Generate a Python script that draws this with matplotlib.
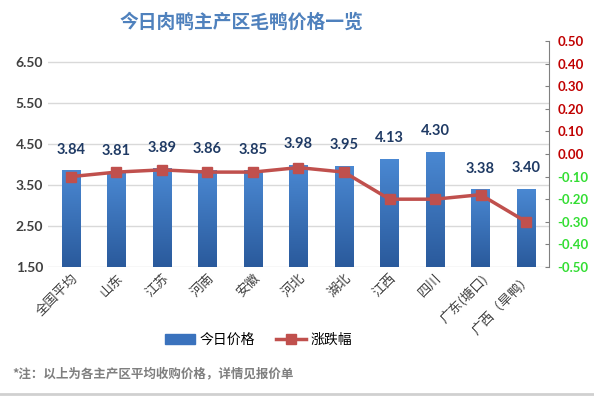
import matplotlib.pyplot as plt
import numpy as np
from matplotlib.colors import LinearSegmentedColormap

plt.rcParams['font.family'] = ['Noto Sans CJK SC', 'DejaVu Sans']

regions = ['全国平均', '山东', '江苏', '河南', '安徽', '河北', '湖北', '江西', '四川', '广东(塘口)', '广西（旱鸭）']
price = [3.84, 3.81, 3.89, 3.86, 3.85, 3.98, 3.95, 4.13, 4.30, 3.38, 3.40]
change = [-0.10, -0.08, -0.07, -0.08, -0.08, -0.06, -0.08, -0.20, -0.20, -0.18, -0.30]
left_ticks = [1.5, 2.5, 3.5, 4.5, 5.5, 6.5]
right_ticks = [-0.5, -0.4, -0.3, -0.2, -0.1, 0.0, 0.1, 0.2, 0.3, 0.4, 0.5]

fig = plt.figure(figsize=(5.94, 3.96), dpi=100)
ax = fig.add_axes([0.081, 0.326, 0.843, 0.570])
x = np.arange(len(regions))

bars = ax.bar(x, [p - 1.5 for p in price], bottom=1.5, width=0.4, color='#3a72bd', zorder=2)
cmap = LinearSegmentedColormap.from_list('b', ['#2a5a9c', '#4a88d2'])
grad = np.linspace(0, 1, 100).reshape(-1, 1)
for b in bars:
    x0, y0 = b.get_xy()
    ax.imshow(grad, extent=[x0, x0 + b.get_width(), y0, y0 + b.get_height()],
              origin='lower', aspect='auto', cmap=cmap, zorder=2.5)

ax.set_xlim(-0.5, len(regions) - 0.5)
ax.set_ylim(1.5, 7.0)
ax.set_yticks(left_ticks)
ax.set_yticklabels([f'{t:.2f}' for t in left_ticks], fontsize=10, color='#404040',
                   fontweight='bold', family='Lato')
ax.yaxis.grid(True, color='#d9d9d9', linewidth=1, zorder=0)
ax.set_axisbelow(True)
for s in ['left', 'top', 'right', 'bottom']:
    ax.spines[s].set_visible(False)
ax.tick_params(axis='both', length=0)
ax.set_xticks(x)
ax.set_xticklabels(regions, rotation=45, ha='right', rotation_mode='anchor',
                   fontsize=9.5, color='#404040')

for xi, p in zip(x, price):
    ax.annotate(f'{p:.2f}', (xi, p), xytext=(0, 10), textcoords='offset points',
                ha='center', va='bottom', fontsize=10.5, fontweight='bold',
                color='#1f3a64', family='Lato', zorder=5)

ax2 = ax.twinx()
ax2.plot(x, change, color='#c0504d', linewidth=2.5, marker='s', markersize=7,
         label='涨跌幅', zorder=4)
ax2.set_ylim(-0.5, 0.5)
ax2.set_yticks(right_ticks)
ax2.set_yticklabels([f'{t:.2f}' for t in right_ticks], fontsize=9.5,
                    fontweight='bold', family='Lato')
for lab, t in zip(ax2.get_yticklabels(), right_ticks):
    lab.set_color('#c00000' if t >= 0 else '#33dd33')
for s in ['left', 'top', 'bottom']:
    ax2.spines[s].set_visible(False)
ax2.spines['right'].set_color('#808080')
ax2.tick_params(axis='y', direction='in', length=3, color='#808080', pad=6)

handles = [plt.Rectangle((0, 0), 1, 1, color='#3a72bd'), ax2.get_lines()[0]]
fig.legend(handles, ['今日价格', '涨跌幅'], loc='center', bbox_to_anchor=(0.435, 0.142),
           ncol=2, frameon=False, fontsize=10, handlelength=2.2, columnspacing=1.5,
           handletextpad=0.3)

fig.text(0.407, 0.945, '今日肉鸭主产区毛鸭价格一览', ha='center', va='center',
         fontsize=13.5, fontweight='bold', color='#4f81bd')
fig.text(0.02, 0.055, '*注：以上为各主产区平均收购价格，详情见报价单', ha='left', va='center',
         fontsize=9, fontweight='bold', color='#7f7f7f')
fig.add_artist(plt.Line2D([0, 1], [0.004, 0.004], color='#d0d0d0', linewidth=2))

fig.savefig('out.png', dpi=100)
